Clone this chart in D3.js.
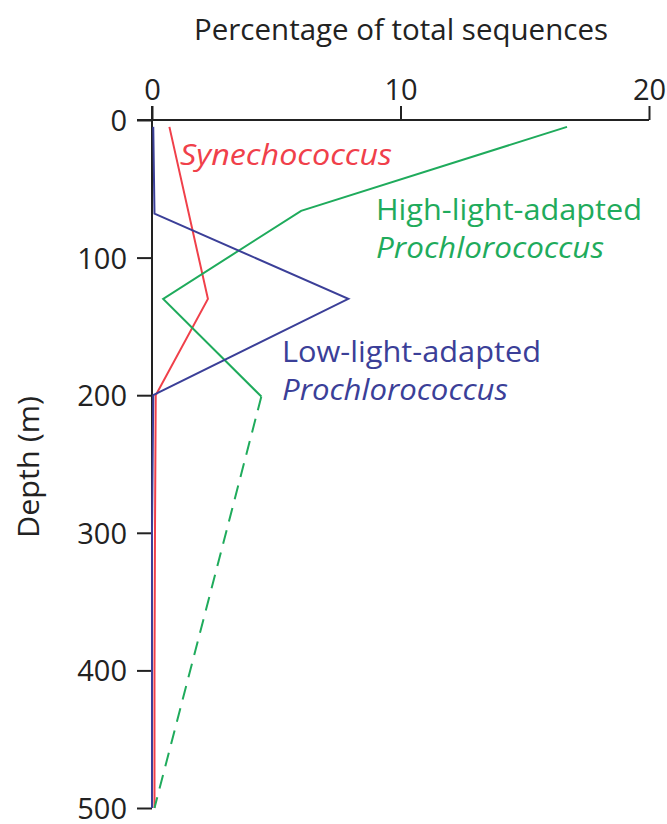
<!DOCTYPE html>
<html>
<head>
<meta charset="utf-8">
<script src="https://cdn.jsdelivr.net/npm/d3@7"></script>
<style>
  body { margin: 0; background: #fff; }
  text { font-family: "Open Sans", sans-serif; }
</style>
</head>
<body>
<div id="chart"></div>
<script>
// depth (m) and percentage of total sequences
var synDepth = [5, 130, 200, 300, 400, 500];
var synPct   = [0.7, 2.25, 0.15, 0.12, 0.1, 0.1];

var lowDepth = [5, 68, 130, 200, 300, 400, 500];
var lowPct   = [0.05, 0.1, 7.9, 0.05, 0, 0, 0];

var highDepth = [5, 66, 130, 201];
var highPct   = [16.7, 6.0, 0.45, 4.4];
var highDeepDepth = [201, 500];
var highDeepPct   = [4.4, 0.1];

var xTicks = [0, 10, 20];
var yTicks = [0, 100, 200, 300, 400, 500];

function init() {
    var w = 667, h = 824;
    var margin = { top: 120, left: 152 };
    var width = 497, height = 688;

    var svg = d3.select("#chart").append("svg")
        .attr("width", w)
        .attr("height", h);

    var g = svg.append("g")
        .attr("transform", "translate(" + margin.left + "," + margin.top + ")");

    var x = d3.scaleLinear().domain([0, 20]).range([0, width]);
    var y = d3.scaleLinear().domain([0, 500]).range([0, height]);

    // top x axis
    var xAxis = d3.axisTop(x).tickValues(xTicks).tickSize(14).tickPadding(6).tickSizeOuter(0);
    var gx = g.append("g").call(xAxis);
    gx.select(".domain").remove();
    gx.append("line").attr("x1", -15).attr("x2", width).attr("stroke", "#222").attr("stroke-width", 2);
    gx.selectAll(".tick line").attr("stroke", "#222").attr("stroke-width", 2);
    gx.selectAll(".tick text").attr("fill", "#222").style("font-size", "29px").attr("dy", "0");

    // left y axis
    var yAxis = d3.axisLeft(y).tickValues(yTicks).tickSize(15).tickPadding(10).tickSizeOuter(0);
    var gy = g.append("g").call(yAxis);
    gy.select(".domain").remove();
    gy.append("line").attr("y1", -14).attr("y2", height).attr("stroke", "#222").attr("stroke-width", 2);
    gy.selectAll(".tick line").attr("stroke", "#222").attr("stroke-width", 2);
    gy.selectAll(".tick text").attr("fill", "#222").style("font-size", "29px").attr("dy", "0.36em");

    // axis titles
    svg.append("text")
        .attr("x", 401).attr("y", 40)
        .attr("text-anchor", "middle")
        .attr("fill", "#222")
        .style("font-size", "29px")
        .attr("textLength", 414).attr("lengthAdjust", "spacingAndGlyphs")
        .text("Percentage of total sequences");

    svg.append("text")
        .attr("transform", "translate(39,467) rotate(-90)")
        .attr("text-anchor", "middle")
        .attr("fill", "#222")
        .style("font-size", "29px")
        .attr("textLength", 142).attr("lengthAdjust", "spacingAndGlyphs")
        .text("Depth (m)");

    var line = d3.line()
        .x(function (d) { return x(d[1]); })
        .y(function (d) { return y(d[0]); });

    function series(depth, pct, color, dash) {
        g.append("path")
            .datum(d3.zip(depth, pct))
            .attr("d", line)
            .attr("fill", "none")
            .attr("stroke", color)
            .attr("stroke-width", 2)
            .attr("stroke-dasharray", dash || null);
    }

    var red = "#f0404a", green = "#1fab5c", blue = "#3b3f98";
    series(synDepth, synPct, red);
    series(highDepth, highPct, green);
    series(highDeepDepth, highDeepPct, green, "14,9");
    series(lowDepth, lowPct, blue);

    // series labels
    function label(tx, ty, txt, color, italic, len) {
        svg.append("text")
            .attr("x", tx).attr("y", ty)
            .attr("fill", color)
            .style("font-size", "29px")
            .style("font-style", italic ? "italic" : "normal")
            .attr("textLength", len).attr("lengthAdjust", "spacingAndGlyphs")
            .text(txt);
    }
    label(180, 165, "Synechococcus", red, true, 212);
    label(376, 220, "High-light-adapted", green, false, 266);
    label(376, 258, "Prochlorococcus", green, true, 228);
    label(282, 362, "Low-light-adapted", blue, false, 259);
    label(282, 400, "Prochlorococcus", blue, true, 226);
}
window.onload = init;
</script>
</body>
</html>
